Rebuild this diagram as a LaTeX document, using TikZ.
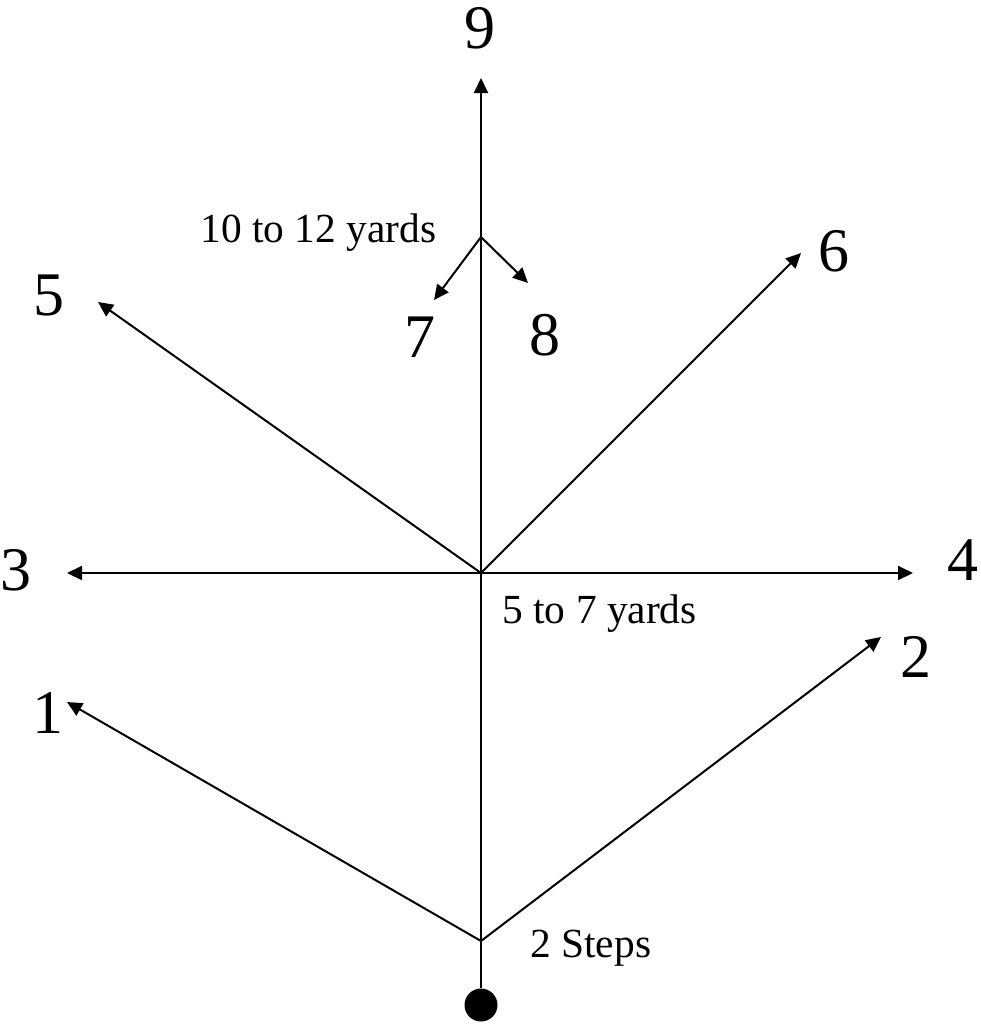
\documentclass[tikz,border=0pt]{standalone}
\usepackage{fontspec}
\setmainfont{Liberation Serif}
\usepackage{tikz}
\usetikzlibrary{arrows.meta}
\tikzstyle{arrow} = [-{Triangle[length=7.5pt, width=7pt]}, line width=1pt, draw=black]
\tikzset{
    routenum/.style={font=\fontsize{31}{37}\selectfont, inner sep=0pt, anchor=base},
    routenote/.style={font=\fontsize{20.7}{25}\selectfont, inner sep=0pt, anchor=base west},
}

\begin{document}
\begin{tikzpicture}[x=0.5pt, y=-0.5pt]
            \useasboundingbox (0,0) rectangle (981,1025);

            % player and break points on the stem
            \node[circle, fill=black, inner sep=0pt, minimum size=16.5pt] (dot) at (481,1005) {};
            \coordinate (steps) at (481,941);
            \coordinate (cut) at (481,573);
            \coordinate (fork) at (481,237);

            % arrow ends
            \coordinate (end1) at (67,702);
            \coordinate (end2) at (881,637);
            \coordinate (end3) at (67,573);
            \coordinate (end4) at (913,573);
            \coordinate (end5) at (98,302);
            \coordinate (end6) at (801,253);
            \coordinate (end7) at (434,300);
            \coordinate (end8) at (528,283);
            \coordinate (end9) at (481,78);

            % stem
            \draw[arrow] (dot.north) -- (end9);

            % after 2 steps
            \draw[arrow] (steps) -- (end1);
            \draw[arrow] (steps) -- (end2);

            % after 5 to 7 yards
            \draw[arrow] (cut) -- (end3);
            \draw[arrow] (cut) -- (end4);
            \draw[arrow] (cut) -- (end5);
            \draw[arrow] (cut) -- (end6);

            % after 10 to 12 yards
            \draw[arrow] (fork) -- (end7);
            \draw[arrow] (fork) -- (end8);

            % route numbers
            \node[routenum] (r1) at (48,733) {1};
            \node[routenum] (r2) at (916,677) {2};
            \node[routenum] (r3) at (16,590) {3};
            \node[routenum] (r4) at (963,580) {4};
            \node[routenum] (r5) at (49,315) {5};
            \node[routenum] (r6) at (834,271) {6};
            \node[routenum] (r7) at (420,357) {7};
            \node[routenum] (r8) at (545,355) {8};
            \node[routenum] (r9) at (480,48) {9};

            % depth notes
            \node[routenote] (steplabel) at (530,957) {2 Steps};
            \node[routenote] (cutlabel) at (502,623) {5 to 7 yards};
            \node[routenote] (forklabel) at (200,242) {10 to 12 yards};
        \end{tikzpicture}
\end{document}
